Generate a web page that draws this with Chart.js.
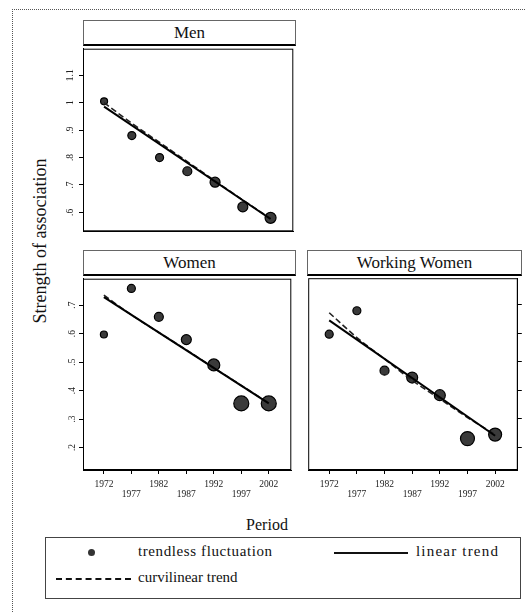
<!DOCTYPE html>
<html><head><meta charset="utf-8">
<script src="https://cdn.jsdelivr.net/npm/chart.js@4.4.1/dist/chart.umd.min.js"></script>
<style>
body{margin:0;background:#fff;width:526px;height:612px;overflow:hidden;position:relative;font-family:"Liberation Serif","DejaVu Serif",serif;color:#111}
canvas{position:absolute}
.strip{position:absolute;box-sizing:border-box;border:1px solid #666;border-bottom:2px solid #000;text-align:center;font-size:17px;line-height:23px;background:#fff;font-family:"Liberation Serif",serif}
.t{position:absolute;white-space:nowrap;font-family:"Liberation Serif",serif}
</style></head><body>
<div style="position:absolute;left:12px;top:9px;width:520px;height:610px;border-left:1px dotted #555;border-top:1px dotted #555"></div>
<div class="t" style="left:40px;top:241px;font-size:18px;transform:translate(-50%,-50%) rotate(-90deg)">Strength of association</div>
<div class="strip" style="left:83px;top:20px;width:213px;height:26px">Men</div>
<div class="strip" style="left:83px;top:250px;width:213px;height:26px">Women</div>
<div class="strip" style="left:307px;top:250px;width:215px;height:26px">Working Women</div>
<canvas id="men" width="250" height="200" style="left:50px;top:40px"></canvas>
<canvas id="women" width="250" height="240" style="left:50px;top:270px"></canvas>
<canvas id="work" width="226" height="240" style="left:300px;top:270px"></canvas>
<div class="t" style="left:267px;top:525px;font-size:16px;transform:translate(-50%,-50%)">Period</div>
<div style="position:absolute;left:45px;top:537px;width:476px;height:62px;border:1px solid #444;box-sizing:border-box;font-size:15px">
  <div style="position:absolute;left:42px;top:11px;width:7px;height:7px;border-radius:50%;background:#333"></div>
  <div class="t" style="left:92px;top:5px;letter-spacing:0.6px">trendless fluctuation</div>
  <div style="position:absolute;left:288px;top:14px;width:74px;border-top:2px solid #111"></div>
  <div class="t" style="left:370px;top:5px;letter-spacing:1.2px">linear trend</div>
  <div style="position:absolute;left:10px;top:40px;width:75px;border-top:2px dashed #111"></div>
  <div class="t" style="left:92px;top:31px">curvilinear trend</div>
</div>
<script>
const years = [1972, 1977, 1982, 1987, 1992, 1997, 2002];
const trendYears = [1972, 2002];
const menObserved = [1.005, 0.88, 0.80, 0.75, 0.71, 0.62, 0.58];
const menLinear = [0.986, 0.576];
const menCurvilinear = [1.0, 0.925, 0.855, 0.785, 0.715, 0.645, 0.578];
const womenObserved = [0.597, 0.759, 0.659, 0.579, 0.490, 0.355, 0.355];
const womenLinear = [0.728, 0.355];
const womenCurvilinear = [0.735, 0.666, 0.604, 0.543, 0.480, 0.418, 0.356];
const workObserved = [0.597, 0.679, 0.469, 0.445, 0.383, 0.231, 0.245];
const workLinear = [0.645, 0.241];
const workCurvilinear = [0.672, 0.585, 0.510, 0.435, 0.370, 0.305, 0.245];
const menTicks = [0.6, 0.7, 0.8, 0.9, 1.0, 1.1];
const womenTicks = [0.2, 0.3, 0.4, 0.5, 0.6, 0.7];
const menRadius = [3.5, 4, 4, 4.5, 5, 5, 5.5];
const womenRadius = [3.5, 4, 4.5, 5, 6, 7.5, 7.5];
const workRadius = [4, 4, 4.5, 5.5, 5.5, 7, 6.5];

const SERIF = '"Liberation Serif","DejaVu Serif",serif';
const frame = {
  id: 'frame',
  afterDraw(chart) {
    const a = chart.chartArea, c = chart.ctx;
    c.save(); c.strokeStyle = '#000'; c.lineWidth = 1;
    c.strokeRect(a.left + 0.5, a.top + 0.5, a.right - a.left - 1, a.bottom - a.top - 1);
    c.restore();
  }
};
function fmt(v) { return Math.abs(v - 1) < 1e-9 ? '1' : v.toFixed(1).replace(/^0/, ''); }

function panel(id, observed, linear, curv, radii, yMin, yMax, yTicks, o) {
  new Chart(document.getElementById(id), {
    data: {
      datasets: [
        { type: 'line', data: trendYears.map((x, i) => ({ x, y: linear[i] })), borderColor: '#000', borderWidth: 2, pointRadius: 0 },
        { type: 'line', data: years.map((x, i) => ({ x, y: curv[i] })), borderColor: '#222', borderWidth: 1.6, borderDash: [6, 3], pointRadius: 0, cubicInterpolationMode: 'monotone' },
        { type: 'scatter', data: years.map((x, i) => ({ x, y: observed[i] })), pointRadius: radii, pointBackgroundColor: '#3a3a3a', pointBorderColor: '#000', pointBorderWidth: 1.2 }
      ]
    },
    options: {
      responsive: false, animation: false, devicePixelRatio: 1,
      layout: { padding: o.padding },
      plugins: { legend: { display: false }, tooltip: { enabled: false } },
      scales: {
        x: {
          type: 'linear', min: 1968.2, max: 2006.1,
          afterBuildTicks: s => { s.ticks = years.map(v => ({ value: v })); },
          afterFit: s => { s.height = o.xHeight; },
          ticks: { display: o.xLabels, autoSkip: false, maxRotation: 0, minRotation: 0, padding: 5,
            color: '#222', font: { family: SERIF, size: 9.5, lineHeight: 1.1 },
            callback: (v, i) => i % 2 ? ['', String(v)] : String(v) },
          grid: { display: true, drawOnChartArea: false, drawTicks: o.xLabels, tickLength: 4, color: '#000' },
          border: { display: true, color: '#000' }
        },
        y: {
          type: 'linear', min: yMin, max: yMax, position: o.yPos,
          afterBuildTicks: s => { s.ticks = yTicks.map(v => ({ value: v })); },
          afterFit: s => { s.width = o.yWidth; },
          ticks: { display: o.yLabels, minRotation: 90, maxRotation: 90, crossAlign: 'center', padding: 3,
            color: '#222', font: { family: SERIF, size: 9.5 }, callback: v => fmt(v) },
          grid: { display: true, drawOnChartArea: false, drawTicks: true, tickLength: 4, color: '#000' },
          border: { display: true, color: '#000' }
        }
      }
    },
    plugins: [frame]
  });
}

panel('men', menObserved, menLinear, menCurvilinear, menRadius, 0.531, 1.197, menTicks,
  { padding: { top: 5, right: 4, left: 0, bottom: 0 }, xHeight: 2, xLabels: false, yPos: 'left', yWidth: 33, yLabels: true });
panel('women', womenObserved, womenLinear, womenCurvilinear, womenRadius, 0.121, 0.793, womenTicks,
  { padding: { top: 5, right: 4, left: 0, bottom: 0 }, xHeight: 40, xLabels: true, yPos: 'left', yWidth: 33, yLabels: true });
panel('work', workObserved, workLinear, workCurvilinear, workRadius, 0.121, 0.793, womenTicks,
  { padding: { top: 5, right: 0, left: 7, bottom: 0 }, xHeight: 40, xLabels: true, yPos: 'right', yWidth: 4, yLabels: false });
</script>
</body></html>
